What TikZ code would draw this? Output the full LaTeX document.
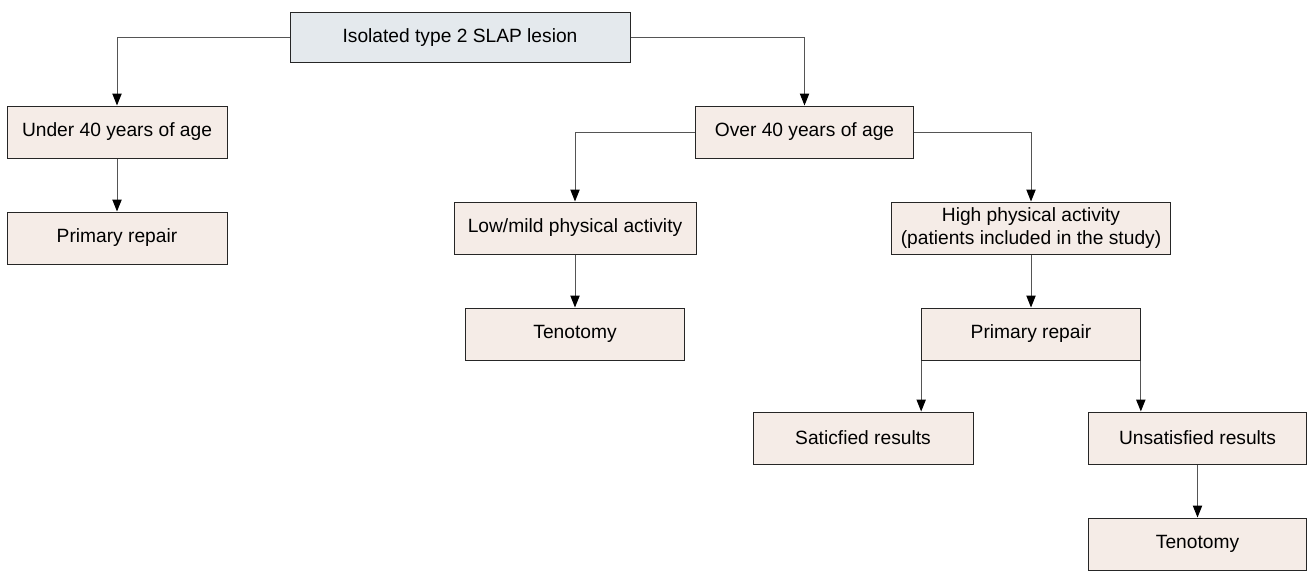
\documentclass[tikz,border=0pt]{standalone}
\usepackage{fontspec}
\setmainfont{Liberation Sans}
\usetikzlibrary{arrows.meta}
\definecolor{boxfill}{HTML}{F5ECE7}
\definecolor{rootfill}{HTML}{E4E9ED}
\definecolor{linegray}{HTML}{555555}
\begin{document}
\begin{tikzpicture}[x=0.75pt, y=-0.75pt,
			every node/.style = {draw=black!85, fill=boxfill, line width=0.75pt, inner sep=0pt,
				minimum height=39pt, align=center, font=\fontsize{14.4}{17.5}\selectfont},
			link/.style = {draw=linegray, line width=0.75pt, -{Triangle[length=9pt,width=7pt,color=black]}}]
			
			\useasboundingbox (0,0) rectangle (1310,571);
			
			\node[fill=rootfill, minimum width=255pt, minimum height=38pt] (slap) at (460,37.5) {Isolated type 2 SLAP lesion};
			\node[minimum width=165pt] (under) at (117,132) {Under 40 years of age};
			\node[minimum width=165pt] (repairA) at (117,238) {Primary repair};
			\node[minimum width=164pt] (over) at (804.5,132) {Over 40 years of age};
			\node[minimum width=181.5pt] (low) at (575,228) {Low/mild physical activity};
			\node[minimum width=209pt] (high) at (1031,228) {High physical activity\\(patients included in the study)};
			\node[minimum width=164pt] (tenoA) at (575,334) {Tenotomy};
			\node[minimum width=164pt] (repairB) at (1031,334) {Primary repair};
			\node[minimum width=165pt] (sat) at (863,438) {Saticfied results};
			\node[minimum width=164pt] (unsat) at (1197.5,438) {Unsatisfied results};
			\node[minimum width=164pt] (tenoB) at (1197.5,544) {Tenotomy};
			
			\draw[link] (slap.west) -| (under.north);
			\draw[link] (slap.east) -| (over.north);
			\draw[link] (over.west) -| (low.north);
			\draw[link] (over.east) -| (high.north);
			\draw[link] (under) -- (repairA);
			\draw[link] (low) -- (tenoA);
			\draw[link] (high) -- (repairB);
			\draw[link] (repairB.south west) -- (repairB.south west |- sat.north);
			\draw[link] (repairB.south east) -- (repairB.south east |- unsat.north);
			\draw[link] (unsat) -- (tenoB);
\end{tikzpicture}
\end{document}
